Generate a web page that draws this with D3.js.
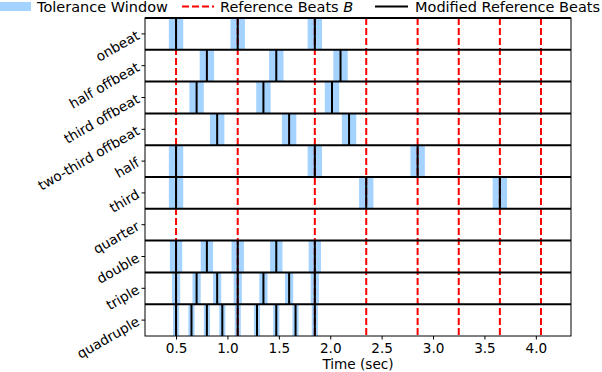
<!DOCTYPE html>
<html>
<head>
<meta charset="utf-8">
<script src="https://cdn.jsdelivr.net/npm/d3@7"></script>
<style>
  body { margin: 0; background: #fff; }
  svg { font-family: "DejaVu Sans", sans-serif; }
</style>
</head>
<body>
<svg class="chart"></svg>
<script>
// reference beats B (sec)
var beats = [0.5, 1.1, 1.85, 2.35, 2.85, 3.25, 3.65, 4.05];

var rowNames = ["onbeat", "half offbeat", "third offbeat", "two-third offbeat", "half",
                "third", "quarter", "double", "triple", "quadruple"];

// modified reference beats per row
var onbeat          = [0.5, 1.1, 1.85];
var halfOffbeat     = [0.8, 1.475, 2.1];
var thirdOffbeat    = [0.7, 1.35, 2.017];
var twoThirdOffbeat = [0.9, 1.6, 2.183];
var half            = [0.5, 1.85, 2.85];
var third           = [0.5, 2.35, 3.65];
var quarter         = [];
var double          = [0.5, 0.8, 1.1, 1.475, 1.85];
var triple          = [0.5, 0.7, 0.9, 1.1, 1.35, 1.6, 1.85];
var quadruple       = [0.5, 0.65, 0.8, 0.95, 1.1, 1.2875, 1.475, 1.6625, 1.85];

// tolerance half-width per row (sec)
var tolerance = [0.07, 0.07, 0.07, 0.07, 0.07, 0.07, 0.07, 0.06, 0.04, 0.03];

var xTicks = [0.5, 1.0, 1.5, 2.0, 2.5, 3.0, 3.5, 4.0];

var rows = [onbeat, halfOffbeat, thirdOffbeat, twoThirdOffbeat, half,
            third, quarter, double, triple, quadruple];

var W = 602, H = 372;
var margin = {top: 18, right: 31, bottom: 36, left: 145},
    width = W - margin.left - margin.right,
    height = H - margin.top - margin.bottom;

var svg = d3.select(".chart").attr("width", W).attr("height", H);
var g = svg.append("g")
    .attr("transform", "translate(" + margin.left + "," + margin.top + ")");

var x = d3.scaleLinear().domain([0.198, 4.342]).range([0, width]);
var y = d3.scaleBand().domain(d3.range(rowNames.length)).range([0, height]);

var blue = "#a5d3ff";
var fs = 13.6;

// tolerance windows
rows.forEach(function(r, i) {
    g.append("g").selectAll("rect").data(r).enter().append("rect")
        .attr("x", function(d) { return x(d - tolerance[i]); })
        .attr("width", function(d) { return x(d + tolerance[i]) - x(d - tolerance[i]); })
        .attr("y", y(i))
        .attr("height", y.bandwidth())
        .attr("fill", blue);
});

// reference beats
g.append("g").selectAll("line").data(beats).enter().append("line")
    .attr("x1", function(d) { return x(d); })
    .attr("x2", function(d) { return x(d); })
    .attr("y1", 0).attr("y2", height)
    .attr("stroke", "#ff0000")
    .attr("stroke-width", 2)
    .attr("stroke-dasharray", "7,3");

// modified reference beats
rows.forEach(function(r, i) {
    g.append("g").selectAll("line").data(r).enter().append("line")
        .attr("x1", function(d) { return x(d); })
        .attr("x2", function(d) { return x(d); })
        .attr("y1", y(i)).attr("y2", y(i) + y.bandwidth())
        .attr("stroke", "#000")
        .attr("stroke-width", 2);
});

// row frames
g.append("rect").attr("x", 0).attr("y", 0).attr("width", width).attr("height", height)
    .attr("fill", "none").attr("stroke", "#000").attr("stroke-width", 1);
g.append("g").selectAll("line").data(d3.range(rowNames.length)).enter().append("line")
    .attr("x1", 0).attr("x2", width)
    .attr("y1", function(d) { return y(d); })
    .attr("y2", function(d) { return y(d); })
    .attr("stroke", "#000").attr("stroke-width", 2);

// x axis
var xAxis = g.append("g")
    .attr("transform", "translate(0," + height + ")")
    .call(d3.axisBottom(x).tickValues(xTicks).tickFormat(d3.format(".1f")).tickSizeOuter(0).tickSize(3.5).tickPadding(3.5));
xAxis.select(".domain").remove();
xAxis.selectAll("text").attr("font-size", fs).attr("font-family", "DejaVu Sans").attr("fill", "#000");

g.append("text")
    .attr("x", width / 2).attr("y", height + 32.5)
    .attr("text-anchor", "middle")
    .attr("font-size", fs)
    .text("Time (sec)");

// y ticks and rotated labels, anchored at their right end
var yt = g.append("g").selectAll("g").data(rowNames).enter().append("g")
    .attr("transform", function(d, i) { return "translate(0," + (y(i) + y.bandwidth() / 2) + ")"; });
yt.append("line").attr("x1", -3.5).attr("x2", 0).attr("stroke", "#000");
yt.append("text")
    .attr("transform", "translate(-7,0) rotate(-30)")
    .attr("text-anchor", "end")
    .attr("dominant-baseline", "central")
    .attr("font-size", fs)
    .text(function(d) { return d; });

// legend
var leg = svg.append("g").attr("font-size", 14.5);
leg.append("rect").attr("x", 0).attr("y", 2).attr("width", 31).attr("height", 9).attr("fill", blue);
leg.append("text").attr("x", 37).attr("y", 12).text("Tolerance Window");
leg.append("line").attr("x1", 182).attr("x2", 214).attr("y1", 6.5).attr("y2", 6.5)
    .attr("stroke", "#ff0000").attr("stroke-width", 2).attr("stroke-dasharray", "7,3");
var t2 = leg.append("text").attr("x", 220).attr("y", 12);
t2.append("tspan").text("Reference Beats ");
t2.append("tspan").attr("font-style", "italic").text("B");
leg.append("line").attr("x1", 375).attr("x2", 408).attr("y1", 6.5).attr("y2", 6.5)
    .attr("stroke", "#000").attr("stroke-width", 2);
leg.append("text").attr("x", 415).attr("y", 12).text("Modified Reference Beats");
</script>
</body>
</html>
